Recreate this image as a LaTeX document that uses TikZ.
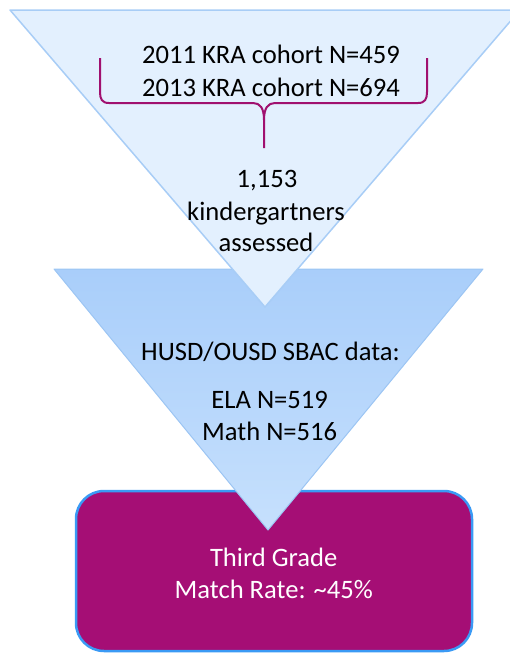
\documentclass[tikz,border=0pt]{standalone}
\usepackage{fontspec}
\setmainfont{Carlito}
\definecolor{triA}{HTML}{E3F0FE}
\definecolor{triAline}{HTML}{A8CDF6}
\definecolor{triBtop}{HTML}{A9CEFA}
\definecolor{triBbot}{HTML}{C6E0FD}
\definecolor{triBline}{HTML}{9CC5F3}
\definecolor{boxfill}{HTML}{A50E75}
\definecolor{boxline}{HTML}{3A9AF5}
\definecolor{brace}{HTML}{A0106F}
\tikzset{
  lbl/.style={anchor=base, inner sep=0pt, font=\fontsize{26.6}{32}\selectfont, text=black},
  wlbl/.style={lbl, text=white},
}
\begin{document}
\begin{tikzpicture}[x=1pt,y=-1pt]
\useasboundingbox (0,0) rectangle (510,654);
\clip (0,0) rectangle (510,654);
% bottom box
\draw[boxline, line width=2.5pt, fill=boxfill, rounded corners=28pt] (76,491) rectangle (472,651);
% second triangle
\shade[top color=triBtop, bottom color=triBbot] (54,269) -- (483,269) -- (268,530) -- cycle;
\draw[triBline, line width=1pt, line join=round] (54,269) -- (483,269) -- (268,530) -- cycle;
% first triangle
\draw[triAline, line width=1.5pt, fill=triA, line join=round] (10,10) -- (520,10) -- (265,307) -- cycle;
% brace
\coordinate (bl) at (100,58);
\coordinate (br) at (427,58);
\coordinate (bt) at (264,148);
\draw[brace, line width=2pt]
  (bl) -- (100,92) .. controls (100,99) and (102,103) .. (109,103)
  -- (253,103) .. controls (260,103) and (264,108) .. (264,120) -- (bt);
\draw[brace, line width=2pt]
  (br) -- (427,92) .. controls (427,99) and (425,103) .. (418,103)
  -- (275,103) .. controls (268,103) and (264,108) .. (264,120);
% texts
\node[lbl] (t1) at (271,63) {2011 KRA cohort N=459};
\node[lbl] (t2) at (271,96) {2013 KRA cohort N=694};
\node[lbl] (t3) at (267,187) {1,153};
\node[lbl] (t4) at (266,220) {kindergartners};
\node[lbl] (t5) at (266,251) {assessed};
\node[lbl] (t6) at (270.5,360) {HUSD/OUSD SBAC data:};
\node[lbl] (t7) at (269.7,408) {ELA N=519};
\node[lbl] (t8) at (269.7,440) {Math N=516};
\node[wlbl] (t9) at (273.7,566) {Third Grade};
\node[wlbl] (t10) at (273.8,598) {Match Rate: \textasciitilde45\%};
\end{tikzpicture}
\end{document}
